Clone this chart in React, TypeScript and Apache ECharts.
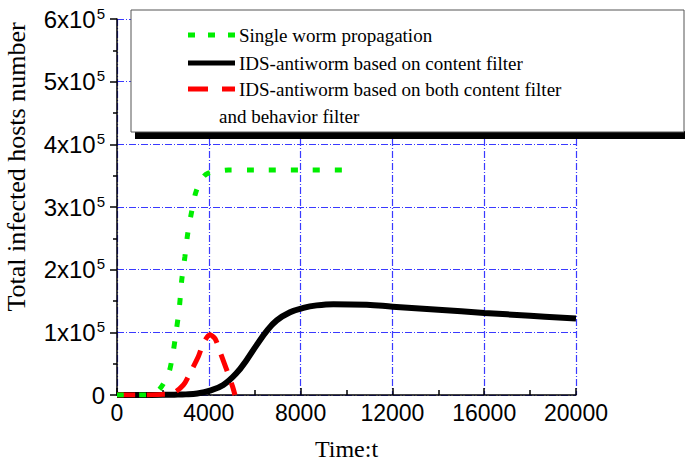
import React, { useEffect, useRef } from "react";
import * as echarts from "echarts";

const seriesNames = [
  "Single worm propagation",
  "IDS-antiworm based on content filter",
  "IDS-antiworm based on both content filter",
];
const legendExtraLine = "and behavior filter";

const singleT = [0, 1000, 1500, 1850, 2240, 2430, 2570, 2720, 2820, 2960, 3080, 3250, 3440, 3760, 3980, 4400, 4850, 6000, 8000, 10400];
const singleN = [0, 0, 1000, 9000, 33500, 65000, 99000, 141000, 183000, 221000, 257000, 292000, 324000, 348000, 354000, 357000, 359000, 359000, 359000, 359000];

const contentT = [0, 1000, 2000, 2500, 3000, 3500, 4050, 4630, 5210, 5650, 6090, 6520, 6960, 7540, 8120, 8700, 9430, 10880, 12010, 14000, 16000, 18000, 20000];
const contentN = [0, 0, 200, 500, 1000, 2500, 7000, 16000, 35000, 56000, 80000, 102000, 119000, 132000, 139000, 143000, 145000, 144000, 141000, 136000, 131000, 126500, 122000];

const bothT = [0, 1000, 2000, 2380, 2890, 3180, 3540, 3760, 4050, 4270, 4520, 4780, 5040, 5140];
const bothN = [0, 0, 1000, 2000, 16000, 35000, 61000, 82000, 96000, 90000, 66000, 40000, 13000, 0];

const xTicks = [0, 4000, 8000, 12000, 16000, 20000];
const yTickMultipliers = [0, 1, 2, 3, 4, 5, 6];

const zip = (a: number[], b: number[]) => a.map((v, i) => [v, b[i]]);

export default function App() {
  const ref = useRef<HTMLDivElement>(null);
  useEffect(() => {
    if (!ref.current) return;
    const chart = echarts.init(ref.current, undefined, { renderer: "svg" });
    const gridLine = { show: true, lineStyle: { color: "#3a3aff", width: 1.2, type: [7, 2, 1, 2] as any } };
    const serif = "Liberation Serif, Times New Roman, serif";
    const sans = "Liberation Sans, Arial, sans-serif";
    chart.setOption({
      animation: false,
      backgroundColor: "#ffffff",
      grid: { left: 117, right: 109, top: 19, bottom: 67, containLabel: false, outerBoundsMode: "none" },
      xAxis: {
        type: "value",
        min: xTicks[0],
        max: xTicks[xTicks.length - 1],
        interval: xTicks[1] - xTicks[0],
        name: "Time:t",
        nameLocation: "middle",
        nameGap: 42,
        nameTextStyle: { fontFamily: serif, fontSize: 24, color: "#000" },
        axisLine: { show: true, onZero: false, lineStyle: { color: "#000", width: 1.5 } },
        axisTick: { show: true, inside: true, length: 7, lineStyle: { color: "#000", width: 1.5 } },
        minorTick: { show: true, splitNumber: 2, length: 5, lineStyle: { color: "#000", width: 1.5 } },
        axisLabel: { fontFamily: sans, fontSize: 23, color: "#000", margin: 6, formatter: (v: number) => String(v) },
        splitLine: gridLine,
      },
      yAxis: {
        type: "value",
        min: 0,
        max: yTickMultipliers[yTickMultipliers.length - 1] * 100000,
        interval: 100000,
        name: "Total infected hosts number",
        nameLocation: "middle",
        nameGap: 88,
        nameTextStyle: { fontFamily: serif, fontSize: 26, color: "#000", padding: [0, 0, 0, 80] },
        axisLine: { show: true, lineStyle: { color: "#000", width: 1.5 } },
        axisTick: { show: true, inside: false, length: 7, lineStyle: { color: "#000", width: 1.5 } },
        minorTick: { show: true, splitNumber: 2, length: 4, lineStyle: { color: "#000", width: 1.5 } },
        axisLabel: {
          margin: 12,
          color: "#000",
          fontFamily: sans,
          fontSize: 24,
          formatter: (v: number) => (v === 0 ? "{b|0}" : `{b|${v / 100000}x10}{s|5}`),
          rich: {
            b: { fontFamily: sans, fontSize: 24, color: "#000" },
            s: { fontFamily: sans, fontSize: 15, color: "#000", verticalAlign: "top", padding: [0, 0, 12, 1] },
          },
        },
        splitLine: gridLine,
      },
      series: [
        {
          name: seriesNames[1],
          type: "line",
          data: zip(contentT, contentN),
          showSymbol: false,
          smooth: 0.4,
          lineStyle: { color: "#000", width: 6 },
          z: 2,
        },
        {
          name: seriesNames[2],
          type: "line",
          data: zip(bothT, bothN),
          showSymbol: false,
          smooth: 0.3,
          lineStyle: { color: "#ff0000", width: 5, type: [18, 12] as any },
          z: 3,
        },
        {
          name: seriesNames[0],
          type: "line",
          data: zip(singleT, singleN),
          showSymbol: false,
          smooth: 0.3,
          lineStyle: { color: "#00ee00", width: 5, type: [7, 15] as any },
          z: 4,
        },
      ],
      graphic: [
        { type: "rect", z: 100, shape: { x: 135, y: 131, width: 560, height: 8 }, style: { fill: "#000" } },
        { type: "rect", z: 101, shape: { x: 131, y: 10, width: 553, height: 122 }, style: { fill: "#fff", stroke: "#555", lineWidth: 1 } },
        { type: "line", z: 102, shape: { x1: 188, y1: 35, x2: 235, y2: 35 }, style: { stroke: "#00ee00", lineWidth: 5, lineDash: [7, 13] } },
        { type: "line", z: 102, shape: { x1: 188, y1: 63, x2: 235, y2: 63 }, style: { stroke: "#000", lineWidth: 5 } },
        { type: "line", z: 102, shape: { x1: 188, y1: 89, x2: 235, y2: 89 }, style: { stroke: "#ff0000", lineWidth: 5, lineDash: [20, 14] } },
        { type: "text", z: 102, x: 239, y: 35, style: { text: seriesNames[0], font: `19px ${serif}`, fill: "#000", verticalAlign: "middle" } },
        { type: "text", z: 102, x: 239, y: 63, style: { text: seriesNames[1], font: `19px ${serif}`, fill: "#000", verticalAlign: "middle" } },
        { type: "text", z: 102, x: 239, y: 89, style: { text: seriesNames[2], font: `19px ${serif}`, fill: "#000", verticalAlign: "middle" } },
        { type: "text", z: 102, x: 219, y: 116, style: { text: legendExtraLine, font: `19px ${serif}`, fill: "#000", verticalAlign: "middle" } },
      ],
    });
    return () => chart.dispose();
  }, []);
  return <div ref={ref} style={{ position: "fixed", left: 0, top: 0, width: 685, height: 462 }} />;
}
